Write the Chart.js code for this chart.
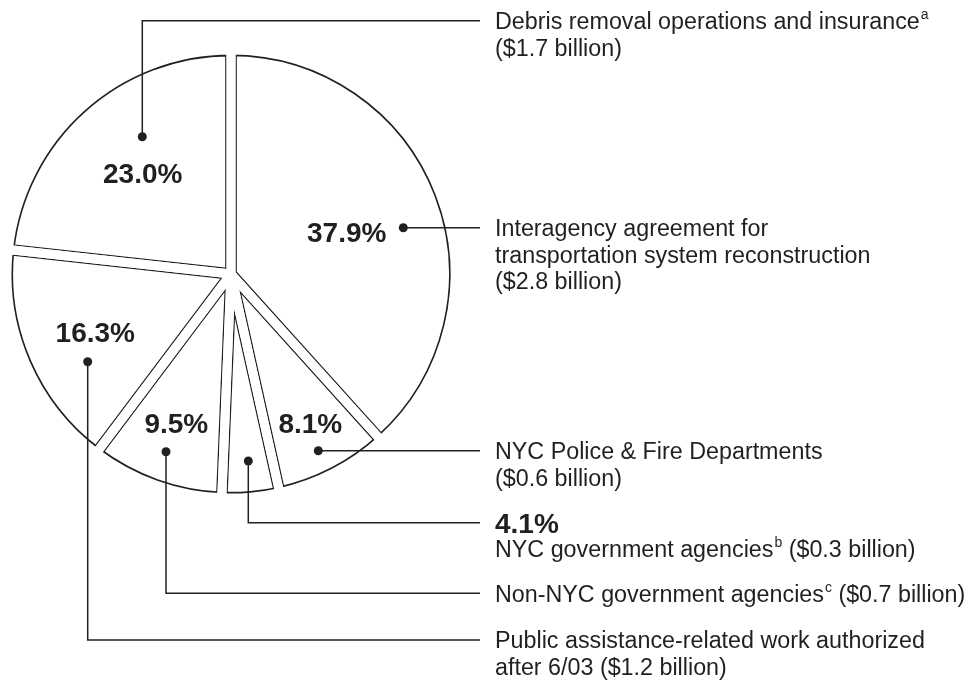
<!DOCTYPE html>
<html>
<head>
<meta charset="utf-8">
<script src="https://cdn.jsdelivr.net/npm/chart.js@4"></script>
<style>
  html, body { margin: 0; padding: 0; background: #ffffff; }
  #wrap { width: 969px; height: 681px; position: relative; }
</style>
</head>
<body>
<div id="wrap"><canvas id="c" width="969" height="681"></canvas></div>
<script>
// ---------------- data ----------------
const categories = [
  'Interagency agreement for transportation system reconstruction',
  'NYC Police & Fire Departments',
  'NYC government agencies',
  'Non-NYC government agencies',
  'Public assistance-related work authorized after 6/03',
  'Debris removal operations and insurance'
];
const shares = [37.9, 8.1, 4.1, 9.5, 16.3, 23.0];      // percent
const amounts = [2.8, 0.6, 0.3, 0.7, 1.2, 1.7];        // $ billion
const footnotes = ['', '', 'b', 'c', '', 'a'];
const nameLines = [
  ['Interagency agreement for', 'transportation system reconstruction'],
  ['NYC Police & Fire Departments'],
  ['NYC government agencies'],
  ['Non-NYC government agencies'],
  ['Public assistance-related work authorized', 'after 6/03'],
  ['Debris removal operations and insurance']
];
const amountInline = [false, false, true, true, true, false];
const pctInLegend = [false, false, true, false, false, false];

// ---------------- annotation layout (not data) ----------------
const FONT = '"Liberation Sans", Arial, Helvetica, sans-serif';
const INK = '#231f20';
const GAP_HALF = 4.5;      // white gap on each side of a slice edge
const OUTLINE = 1.3;       // dark outline width
// offsets (px) from pie centre
const pctPos = [[115.7, -42], [79.3, 148.5], null, [-54.7, 148.5], [-135.7, 57.7], [-88.3, -101]];
const dotPos = [[172.3, -46.3], [87.3, 176.7], [17.3, 187], [-65, 177.7], [-143.3, 87.7], [-88.7, -137.3]];
const elbowY = [null, null, 522.7, 593.3, 640, 20.7];
const LINE_END_X = 480;
const TEXT_X = 495;
const TEXT_SIZE = 23.3;
const PCT_SIZE = 28;
const LINE_GAP = 26.5;

function drawSegs(ctx, x, yMid, segs, size, bold) {
  let cx = x;
  const base = yMid + 0.358 * size;
  ctx.textAlign = 'left';
  ctx.textBaseline = 'alphabetic';
  for (const s of segs) {
    if (s.sup) {
      ctx.font = Math.round(size * 0.6) + 'px ' + FONT;
      ctx.fillText(s.t, cx + 1, base - size * 0.42);
      cx += ctx.measureText(s.t).width + 1;
    } else {
      ctx.font = (bold ? 'bold ' : '') + size + 'px ' + FONT;
      ctx.fillText(s.t, cx, base);
      cx += ctx.measureText(s.t).width;
    }
  }
}

// second pass over the library's own arc elements: a white band along every
// slice edge that leaves only a thin dark outline and opens parallel gaps
const sliceGaps = {
  id: 'sliceGaps',
  afterDatasetsDraw(chart) {
    const ctx = chart.ctx;
    const arcs = chart.getDatasetMeta(0).data;
    arcs.forEach(arc => {
      const saved = arc.options;
      arc.options = Object.assign({}, saved, {
        backgroundColor: 'rgba(0,0,0,0)',
        borderColor: '#ffffff',
        borderWidth: GAP_HALF * 2,
        borderAlign: 'center',
        borderJoinStyle: 'round',
        borderDash: [],
        borderDashOffset: 0,
        offset: 0,
        spacing: 0,
        borderRadius: 0,
        circular: true
      });
      arc.draw(ctx);
      arc.options = saved;
    });
  }
};

const annotations = {
  id: 'annotations',
  afterDatasetsDraw(chart) {
    const ctx = chart.ctx;
    const arcs = chart.getDatasetMeta(0).data;
    ctx.save();
    ctx.fillStyle = INK;
    ctx.strokeStyle = INK;
    arcs.forEach((arc, i) => {
      const p = arc.getProps(['x', 'y'], true);
      if (pctPos[i]) {
        ctx.font = 'bold ' + PCT_SIZE + 'px ' + FONT;
        ctx.textAlign = 'center';
        ctx.textBaseline = 'alphabetic';
        ctx.fillText(shares[i].toFixed(1) + '%', p.x + pctPos[i][0], p.y + pctPos[i][1] + 0.358 * PCT_SIZE);
      }
      const dx = p.x + dotPos[i][0];
      const dy = p.y + dotPos[i][1];
      ctx.beginPath();
      ctx.arc(dx, dy, 4.5, 0, Math.PI * 2);
      ctx.fill();
      const ly = elbowY[i] !== null ? elbowY[i] : dy;
      ctx.beginPath();
      ctx.lineWidth = 1.5;
      ctx.moveTo(dx, dy);
      if (elbowY[i] !== null) ctx.lineTo(dx, ly);
      ctx.lineTo(LINE_END_X, ly);
      ctx.stroke();
      const amt = '($' + amounts[i].toFixed(1) + ' billion)';
      const lines = [];
      if (pctInLegend[i]) lines.push({ segs: [{ t: shares[i].toFixed(1) + '%' }], size: PCT_SIZE, bold: true });
      nameLines[i].forEach((nm, j) => {
        const segs = [{ t: nm }];
        if (j === nameLines[i].length - 1) {
          if (footnotes[i]) segs.push({ t: footnotes[i], sup: true });
          if (amountInline[i]) segs.push({ t: ' ' + amt });
        }
        lines.push({ segs, size: TEXT_SIZE, bold: false });
      });
      if (!amountInline[i]) lines.push({ segs: [{ t: amt }], size: TEXT_SIZE, bold: false });
      let y = ly;
      lines.forEach(ln => {
        drawSegs(ctx, TEXT_X, y, ln.segs, ln.size, ln.bold);
        y += ln.bold ? 25.5 : LINE_GAP;
      });
    });
    ctx.restore();
  }
};

new Chart(document.getElementById('c'), {
  type: 'pie',
  data: {
    labels: categories,
    datasets: [{
      data: shares,
      backgroundColor: '#ffffff',
      borderColor: INK,
      borderWidth: GAP_HALF + OUTLINE,
      borderAlign: 'inner',
      borderJoinStyle: 'miter',
      offset: 0,
      hoverOffset: 0
    }]
  },
  options: {
    responsive: false,
    animation: false,
    radius: 224,
    layout: { padding: { left: 0, top: 0, right: 507, bottom: 133 } },
    plugins: { legend: { display: false }, tooltip: { enabled: false } },
    events: []
  },
  plugins: [sliceGaps, annotations]
});
</script>
</body>
</html>
